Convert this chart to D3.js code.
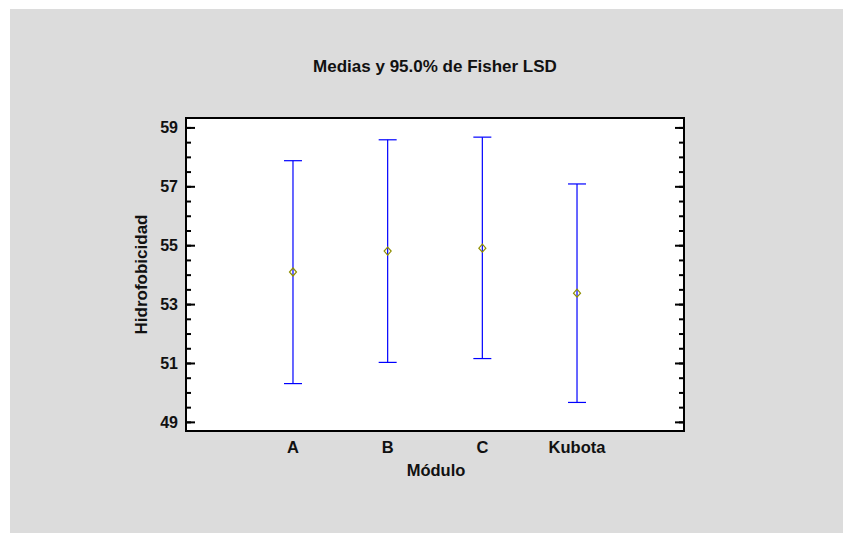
<!DOCTYPE html>
<html lang="es">
<head>
  <meta charset="UTF-8">
  <title>Medias y 95.0% de Fisher LSD</title>
  <script src="https://d3js.org/d3.v7.min.js"></script>
  <style>
    body {
      margin: 0;
      padding: 0;
      background: #fff;
      font-family: Arial, "Liberation Sans", sans-serif;
    }
    svg text {
      font-weight: bold;
      fill: #111;
    }
  </style>
</head>
<body>
  <div id="chart"></div>

  <script>
    // datos
    const modulos = ["A", "B", "C", "Kubota"];
    const medias = [54.09, 54.80, 54.90, 53.37];
    const limInf = [50.30, 51.02, 51.15, 49.66];
    const limSup = [57.87, 58.58, 58.67, 57.08];
    const yTicks = [49, 51, 53, 55, 57, 59];

    const width = 843, height = 533;
    const plot = { left: 186, top: 118, right: 684, bottom: 431 };

    const svg = d3.select("#chart")
                  .append("svg")
                  .attr("width", width)
                  .attr("height", height);

    // fondo gris
    svg.append("rect")
       .attr("x", 10).attr("y", 9)
       .attr("width", width - 10).attr("height", height - 9)
       .attr("fill", "#dcdcdc");

    svg.append("rect")
       .attr("x", plot.left).attr("y", plot.top)
       .attr("width", plot.right - plot.left)
       .attr("height", plot.bottom - plot.top)
       .attr("fill", "#fff");

    const x = d3.scalePoint()
                .domain(modulos)
                .range([plot.left, plot.right])
                .padding(1.13);

    const y = d3.scaleLinear()
                .domain([48.69, 59.32])
                .range([plot.bottom, plot.top]);

    const minor = d3.range(49, 59.01, 0.5);

    // ejes izquierda y derecha (marcas hacia dentro)
    const axL = svg.append("g").attr("transform", `translate(${plot.left},0)`);
    axL.call(d3.axisRight(y).tickValues(minor).tickSize(5).tickFormat(""))
       .call(g => g.select(".domain").remove());
    axL.append("g")
       .call(d3.axisRight(y).tickValues(yTicks).tickSize(9).tickFormat(""))
       .call(g => g.select(".domain").remove());

    const axR = svg.append("g").attr("transform", `translate(${plot.right},0)`);
    axR.call(d3.axisLeft(y).tickValues(minor).tickSize(5).tickFormat(""))
       .call(g => g.select(".domain").remove());
    axR.append("g")
       .call(d3.axisLeft(y).tickValues(yTicks).tickSize(9).tickFormat(""))
       .call(g => g.select(".domain").remove());

    svg.selectAll(".tick line").attr("stroke", "#000").attr("stroke-width", 2);

    // etiquetas eje y
    svg.append("g").selectAll("text")
       .data(yTicks)
       .join("text")
       .attr("x", plot.left - 8)
       .attr("y", d => y(d))
       .attr("dy", "0.36em")
       .attr("text-anchor", "end")
       .style("font-size", "16px")
       .text(d => d);

    // etiquetas eje x
    svg.append("g").selectAll("text")
       .data(modulos)
       .join("text")
       .attr("x", d => x(d))
       .attr("y", plot.bottom + 22)
       .attr("text-anchor", "middle")
       .style("font-size", "16.5px")
       .text(d => d);

    // borde del grafico
    svg.append("rect")
       .attr("x", plot.left).attr("y", plot.top)
       .attr("width", plot.right - plot.left)
       .attr("height", plot.bottom - plot.top)
       .attr("fill", "none")
       .attr("stroke", "#000")
       .attr("stroke-width", 2);

    // barras de error LSD
    const g = svg.append("g");
    const cap = 9;
    modulos.forEach((m, i) => {
      const cx = x(m);
      g.append("line")
       .attr("x1", cx).attr("x2", cx)
       .attr("y1", y(limSup[i])).attr("y2", y(limInf[i]))
       .attr("stroke", "#0000ff").attr("stroke-width", 1.2);
      g.append("line")
       .attr("x1", cx - cap).attr("x2", cx + cap)
       .attr("y1", y(limSup[i])).attr("y2", y(limSup[i]))
       .attr("stroke", "#0000ff").attr("stroke-width", 1.2);
      g.append("line")
       .attr("x1", cx - cap).attr("x2", cx + cap)
       .attr("y1", y(limInf[i])).attr("y2", y(limInf[i]))
       .attr("stroke", "#0000ff").attr("stroke-width", 1.2);
    });

    // medias (rombos)
    g.selectAll("path.media")
     .data(medias)
     .join("path")
     .attr("class", "media")
     .attr("transform", (d, i) => `translate(${x(modulos[i])},${y(d)})`)
     .attr("d", "M0,-4L3.5,0L0,4L-3.5,0Z")
     .attr("fill", "none")
     .attr("stroke", "#8f8f00")
     .attr("stroke-width", 1.2);

    // titulos
    svg.append("text")
       .attr("x", 435).attr("y", 72)
       .attr("text-anchor", "middle")
       .style("font-size", "17px")
       .text("Medias y 95.0% de Fisher LSD");

    svg.append("text")
       .attr("x", 436).attr("y", 476)
       .attr("text-anchor", "middle")
       .style("font-size", "16.5px")
       .text("Módulo");

    svg.append("text")
       .attr("transform", `translate(147,${(plot.top + plot.bottom) / 2}) rotate(-90)`)
       .attr("text-anchor", "middle")
       .style("font-size", "17px")
       .text("Hidrofobicidad");
  </script>
</body>
</html>
